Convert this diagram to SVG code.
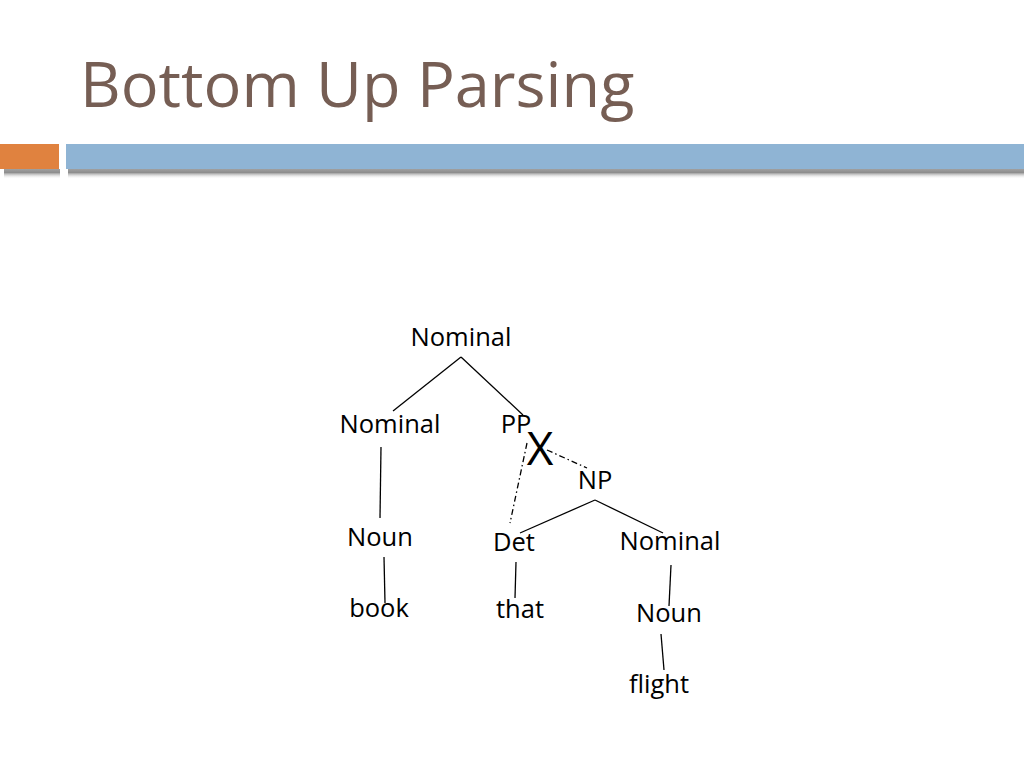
<svg xmlns="http://www.w3.org/2000/svg" width="1024" height="768" viewBox="0 0 1024 768">
<defs>
<linearGradient id="shadow" x1="0" y1="0" x2="0" y2="1">
<stop offset="0" stop-color="#a0a0a0"/>
<stop offset="0.35" stop-color="#8e8e8e"/>
<stop offset="1" stop-color="#ffffff" stop-opacity="0"/>
</linearGradient>
</defs>
<style>
.lbl{font-family:"Open Sans","Noto Sans",sans-serif;font-size:25.5px;fill:#000;text-anchor:middle}
.edge{stroke:#000;stroke-width:1.3;fill:none}
.dd{stroke:#000;stroke-width:1.3;fill:none;stroke-dasharray:6 3 1.5 3}
</style>
<rect x="0" y="0" width="1024" height="768" fill="#fff"/>
<text x="80" y="107" font-family="'Open Sans','Noto Sans',sans-serif" font-size="63" fill="#765e54">Bottom Up Parsing</text>
<g id="band">
<rect x="4" y="169" width="56" height="10" fill="url(#shadow)"/>
<rect x="68" y="169" width="956" height="10" fill="url(#shadow)"/>
<rect x="0" y="144" width="59" height="25" fill="#e0823f"/>
<rect x="66" y="144" width="958" height="25" fill="#8fb4d4"/>
</g>
<g id="connectors">
<line class="edge" x1="461" y1="357" x2="393" y2="411"/>
<line class="edge" x1="461" y1="357" x2="523" y2="415"/>
<line class="edge" x1="381" y1="447" x2="380" y2="518"/>
<line class="edge" x1="384" y1="557" x2="385" y2="603"/>
<line class="edge" x1="516" y1="562" x2="515" y2="598"/>
<line class="edge" x1="595" y1="500" x2="520" y2="533"/>
<line class="edge" x1="595" y1="500" x2="663" y2="533"/>
<line class="edge" x1="671" y1="565" x2="669" y2="606"/>
<line class="edge" x1="661" y1="634" x2="664" y2="670"/>
<line class="dd" x1="527" y1="443" x2="510" y2="523"/>
<line class="dd" x1="547" y1="450" x2="587" y2="468"/>
</g>
<g id="n-nominal-top"><text class="lbl" x="461" y="346">Nominal</text></g>
<g id="n-nominal-left"><text class="lbl" x="390" y="433">Nominal</text></g>
<g id="n-pp"><text class="lbl" x="516" y="433">PP</text></g>
<g id="n-x"><text x="540" y="465" font-family="'Open Sans','Noto Sans',sans-serif" font-size="46" text-anchor="middle" fill="#000">X</text></g>
<g id="n-np"><text class="lbl" x="595" y="489">NP</text></g>
<g id="n-noun-left"><text class="lbl" x="380" y="546">Noun</text></g>
<g id="n-det"><text class="lbl" x="514" y="551">Det</text></g>
<g id="n-nominal-right"><text class="lbl" x="670" y="550">Nominal</text></g>
<g id="n-book"><text class="lbl" x="379" y="617">book</text></g>
<g id="n-that"><text class="lbl" x="520" y="618">that</text></g>
<g id="n-noun-right"><text class="lbl" x="669" y="622">Noun</text></g>
<g id="n-flight"><text class="lbl" x="659" y="693">flight</text></g>
</svg>
